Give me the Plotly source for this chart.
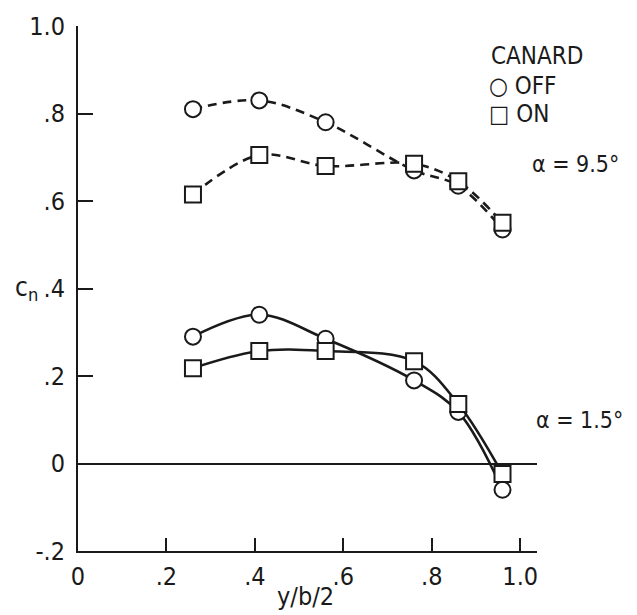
import plotly.graph_objects as go

# data
span = [0.26, 0.41, 0.56, 0.76, 0.86, 0.96]
off_95 = [0.81, 0.83, 0.78, 0.67, 0.635, 0.535]
on_95 = [0.615, 0.705, 0.68, 0.685, 0.645, 0.55]
off_15 = [0.29, 0.34, 0.285, 0.19, 0.118, -0.06]
on_15 = [0.218, 0.257, 0.257, 0.234, 0.136, -0.024]

x_ticks = [0, 0.2, 0.4, 0.6, 0.8, 1.0]
x_ticktext = ["0", ".2", ".4", ".6", ".8", "1.0"]
y_ticks = [-0.2, 0, 0.2, 0.4, 0.6, 0.8, 1.0]
y_ticktext = ["-.2", "0", ".2", ".4", ".6", ".8", "1.0"]

FONT = "Liberation Sans Narrow, DejaVu Sans Condensed, Arial Narrow, sans-serif"
INK = "#1a1a1a"

fig = go.Figure()

def add(y, symbol, dash):
    fig.add_trace(go.Scatter(
        x=span, y=y, mode="lines+markers",
        line=dict(color=INK, width=2.6, dash=dash, shape="spline", smoothing=1.0),
        marker=dict(symbol=symbol, size=16, color="white",
                    line=dict(color=INK, width=2)),
        showlegend=False, cliponaxis=False))

add(off_95, "circle", "9px,6px")
add(on_95, "square", "9px,6px")
add(off_15, "circle", "solid")
add(on_15, "square", "solid")

fig.update_layout(
    width=637, height=615,
    margin=dict(l=78, r=100, t=15, b=64),
    paper_bgcolor="white", plot_bgcolor="white",
    font=dict(family=FONT, size=25, color=INK),
    xaxis=dict(range=[0, 1.038], tickvals=x_ticks, ticktext=x_ticktext,
               ticks="inside", ticklen=13, tickwidth=2, tickcolor=INK,
               ticklabelstandoff=2,
               showline=True, linewidth=2, linecolor=INK,
               showgrid=False, zeroline=False),
    yaxis=dict(range=[-0.2, 1.0], tickvals=y_ticks, ticktext=y_ticktext,
               ticks="inside", ticklen=15, tickwidth=2, tickcolor=INK,
               ticklabelstandoff=6,
               showline=True, linewidth=2, linecolor=INK,
               showgrid=False, zeroline=True, zerolinecolor=INK, zerolinewidth=2),
)

def px_x(p):
    return (p - 78) / 459

def px_y(p):
    return (551 - p) / 536

ann = [
    dict(text="CANARD", x=px_x(489), y=px_y(46), xanchor="left", size=24),
    dict(text="○ OFF", x=px_x(487), y=px_y(76), xanchor="left", size=24),
    dict(text="□ ON", x=px_x(487), y=px_y(105), xanchor="left", size=24),
    dict(text="α = 9.5°", x=px_x(530), y=px_y(156), xanchor="left", size=23),
    dict(text="α = 1.5°", x=px_x(534), y=px_y(417), xanchor="left", size=23),
    dict(text="c<sub>n</sub>", x=px_x(40), y=px_y(283), xanchor="right", size=26),
    dict(text="y/b/2", x=px_x(305), y=px_y(597), xanchor="center", size=25),
]
for a in ann:
    s = a.pop("size")
    fig.add_annotation(xref="paper", yref="paper", showarrow=False,
                       yanchor="middle", font=dict(family=FONT, size=s, color=INK), **a)

fig.write_html("out.html")
